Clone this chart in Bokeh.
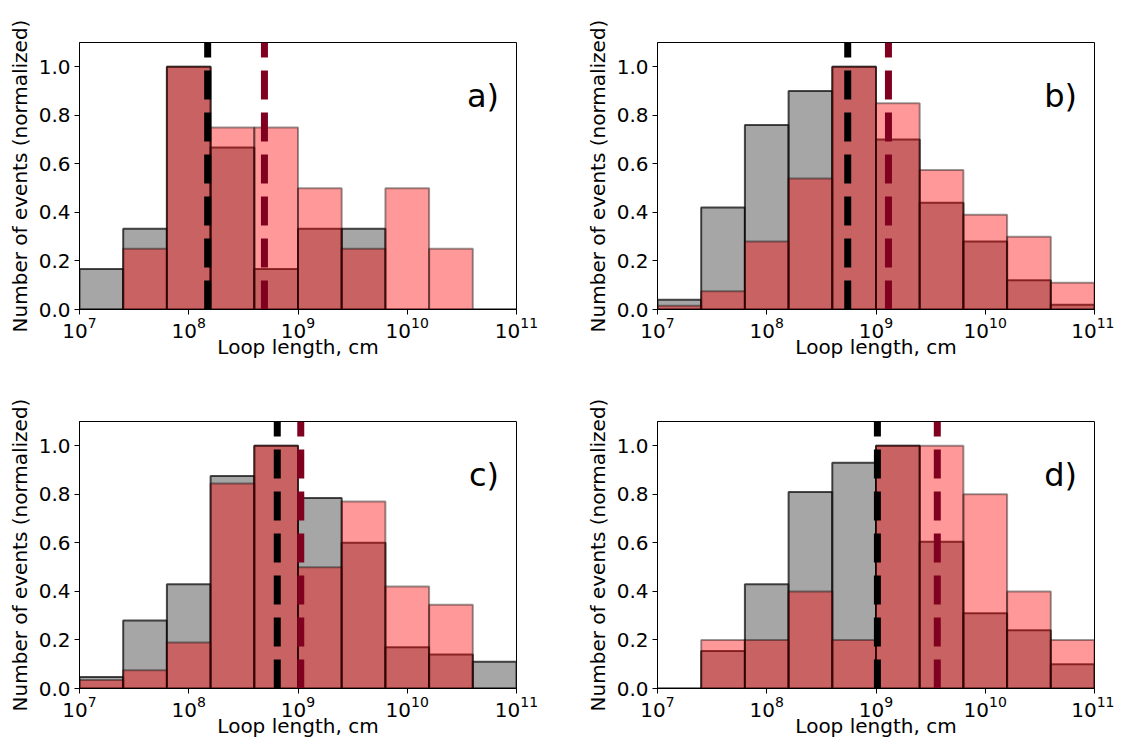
from bokeh.plotting import figure
from bokeh.models import Range1d, FixedTicker, LogTickFormatter, PrintfTickFormatter, Label
from bokeh.layouts import gridplot
from bokeh.embed import file_html
from bokeh.resources import INLINE

# Histogram bin edges (log10 of loop length in cm)
log_edges = [7.0, 7.4, 7.8, 8.2, 8.6, 9.0, 9.4, 9.8, 10.2, 10.6, 11.0]

# Normalized counts per bin (grey = first population, red = second)
grey_a = [0.167, 0.333, 1.0, 0.667, 0.167, 0.333, 0.333, 0.0, 0.0, 0.0]
red_a = [0.0, 0.25, 1.0, 0.75, 0.75, 0.5, 0.25, 0.5, 0.25, 0.0]

grey_b = [0.04, 0.42, 0.76, 0.90, 1.0, 0.70, 0.44, 0.28, 0.12, 0.02]
red_b = [0.015, 0.075, 0.28, 0.54, 1.0, 0.85, 0.575, 0.39, 0.30, 0.11]

grey_c = [0.047, 0.28, 0.43, 0.875, 1.0, 0.785, 0.60, 0.17, 0.14, 0.11]
red_c = [0.035, 0.075, 0.19, 0.845, 1.0, 0.50, 0.77, 0.42, 0.345, 0.0]

grey_d = [0.0, 0.155, 0.43, 0.81, 0.93, 1.0, 0.605, 0.31, 0.24, 0.10]
red_d = [0.0, 0.20, 0.20, 0.40, 0.20, 1.0, 1.0, 0.80, 0.40, 0.20]

# Median loop lengths (cm) shown as dashed lines
median_grey = [1.49e8, 5.51e8, 6.46e8, 1.03e9]
median_red = [4.93e8, 1.30e9, 1.06e9, 3.64e9]

panel_labels = ["a)", "b)", "c)", "d)"]
y_ticks = [0.0, 0.2, 0.4, 0.6, 0.8, 1.0]
x_ticks = [1e7, 1e8, 1e9, 1e10, 1e11]

FONT = "DejaVu Sans"


def make_panel(grey, red, med_g, med_r, label, left, right, top, bottom):
    p = figure(
        x_axis_type="log",
        x_range=Range1d(1e7, 1e11),
        y_range=Range1d(0, 1.1),
        frame_width=437,
        frame_height=267,
        min_border_left=left,
        min_border_right=right,
        min_border_top=top,
        min_border_bottom=bottom,
        output_backend="svg",
        toolbar_location=None,
        background_fill_color="white",
    )
    p.xgrid.visible = False
    p.ygrid.visible = False
    p.outline_line_color = "black"
    p.outline_line_width = 1
    p.outline_line_alpha = 1

    lefts = [10 ** e for e in log_edges[:-1]]
    rights = [10 ** e for e in log_edges[1:]]

    p.quad(left=lefts, right=rights, bottom=0, top=grey,
           fill_color="gray", fill_alpha=0.7,
           line_color="black", line_alpha=0.7, line_width=2)
    p.quad(left=lefts, right=rights, bottom=0, top=red,
           fill_color="red", fill_alpha=0.4,
           line_color="black", line_alpha=0.4, line_width=2)

    p.segment(x0=[med_g], y0=[0], x1=[med_g], y1=[1.1],
              line_color="black", line_width=7, line_dash="29 13")
    p.segment(x0=[med_r], y0=[0], x1=[med_r], y1=[1.1],
              line_color="#800020", line_width=7, line_dash="29 13")

    p.add_layout(Label(x=10 ** 10.84, y=0.878, text=label,
                       text_font=FONT, text_font_size="32px",
                       text_align="right", text_baseline="alphabetic",
                       text_color="black"))

    for ax in (p.xaxis, p.yaxis):
        ax.axis_line_color = "black"
        ax.axis_line_width = 1
        ax.major_tick_line_color = "black"
        ax.major_tick_out = 5
        ax.major_tick_in = 0
        ax.minor_tick_out = 0
        ax.minor_tick_in = 0
        ax.major_label_text_font = FONT
        ax.major_label_text_font_size = "20px"
        ax.major_label_text_color = "black"
        ax.axis_label_text_font = FONT
        ax.axis_label_text_font_size = "20px"
        ax.axis_label_text_font_style = "normal"
        ax.axis_label_text_color = "black"
        ax.major_label_standoff = 4

    p.xaxis.ticker = FixedTicker(ticks=x_ticks, minor_ticks=[])
    p.xaxis.formatter = LogTickFormatter()
    p.xaxis.major_label_standoff = 2
    p.xaxis.axis_label = "Loop length, cm"
    p.xaxis.axis_label_standoff = -6

    p.yaxis.ticker = FixedTicker(ticks=y_ticks, minor_ticks=[])
    p.yaxis.formatter = PrintfTickFormatter(format="%.1f")
    p.yaxis.axis_label = "Number of events (normalized)"
    p.yaxis.axis_label_standoff = 4
    return p


pa = make_panel(grey_a, red_a, median_grey[0], median_red[0], panel_labels[0], 79, 66, 42, 77)
pb = make_panel(grey_b, red_b, median_grey[1], median_red[1], panel_labels[1], 72, 20, 42, 77)
pc = make_panel(grey_c, red_c, median_grey[2], median_red[2], panel_labels[2], 79, 66, 35, 55)
pd_ = make_panel(grey_d, red_d, median_grey[3], median_red[3], panel_labels[3], 72, 20, 35, 55)

grid = gridplot([[pa, pb], [pc, pd_]], toolbar_location=None)

open("out.html", "w").write(file_html(grid, INLINE))
